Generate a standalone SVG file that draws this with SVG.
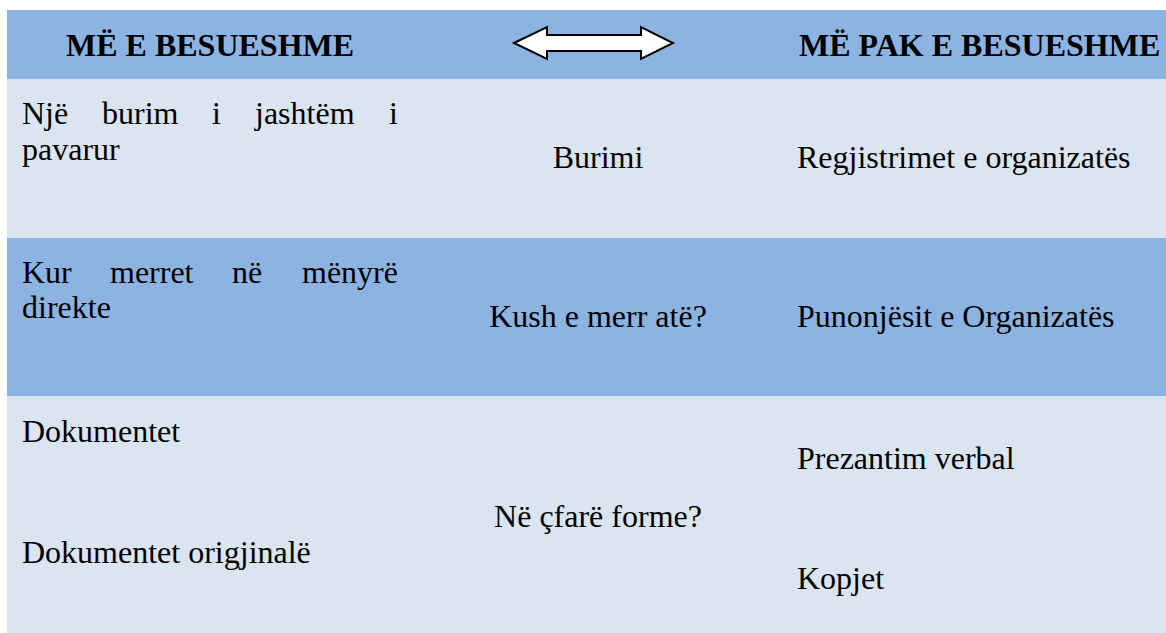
<svg xmlns="http://www.w3.org/2000/svg" width="1166" height="633" viewBox="0 0 1166 633">
  <style>
    .band-dark { fill: #8DB3E2; }
    .band-light { fill: #DBE5F1; }
    text { font-family: 'Liberation Serif', 'Times New Roman', serif; font-size: 32px; fill: #000; }
    .head { font-weight: bold; }
    .mid { text-anchor: middle; }
    .arrow { fill: #fff; stroke: #000; stroke-width: 2; stroke-linejoin: miter; }
  </style>
  <rect width="1166" height="633" fill="#fff"/>

  <!-- row bands -->
  <g id="bands">
    <rect class="band-dark" x="7" y="10" width="1159" height="69"/>
    <rect class="band-light" x="7" y="79" width="1159" height="159"/>
    <rect class="band-dark" x="7" y="238" width="1159" height="158"/>
    <rect class="band-light" x="7" y="396" width="1159" height="237"/>
  </g>

  <!-- header row -->
  <g id="header">
    <text class="head" x="66" y="56">MË E BESUESHME</text>
    <text class="head" x="799" y="56">MË PAK E BESUESHME</text>
  </g>
  <g id="connectors">
    <polygon class="arrow" points="514,43 547,27 547,35 641,35 641,27 673,43 641,59 641,51 547,51 547,59"/>
  </g>

  <!-- row: source (left cell justified word by word) -->
  <g id="row-source">
    <text y="124"><tspan x="22">Një</tspan><tspan x="102">burim</tspan><tspan x="212">i</tspan><tspan x="255">jashtëm</tspan><tspan x="389">i</tspan></text>
    <text x="22" y="160">pavarur</text>
    <text class="mid" x="598" y="168">Burimi</text>
    <text x="797" y="168">Regjistrimet e organizatës</text>
  </g>

  <!-- row: who takes it -->
  <g id="row-who">
    <text y="283"><tspan x="22">Kur</tspan><tspan x="110">merret</tspan><tspan x="232">në</tspan><tspan x="302">mënyrë</tspan></text>
    <text x="22" y="318">direkte</text>
    <text class="mid" x="598" y="327">Kush e merr atë?</text>
    <text x="797" y="327">Punonjësit e Organizatës</text>
  </g>

  <!-- row: form -->
  <g id="row-form">
    <text x="22" y="442">Dokumentet</text>
    <text x="22" y="563">Dokumentet origjinalë</text>
    <text class="mid" x="598" y="527">Në çfarë forme?</text>
    <text x="797" y="469">Prezantim verbal</text>
    <text x="797" y="589">Kopjet</text>
  </g>
</svg>
